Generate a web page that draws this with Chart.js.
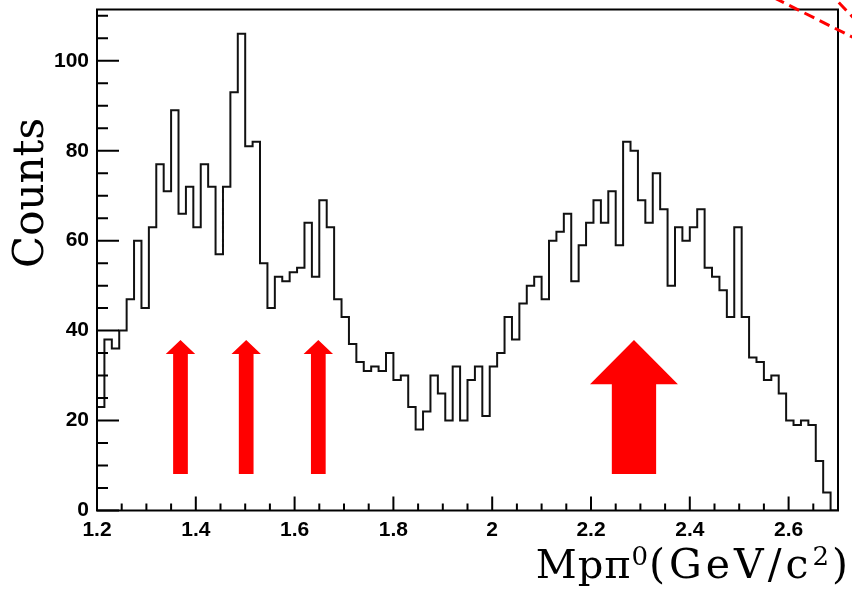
<!DOCTYPE html>
<html>
<head>
<meta charset="utf-8">
<script src="https://cdn.jsdelivr.net/npm/chart.js@4.4.1/dist/chart.umd.min.js"></script>
<style>
  html, body { margin: 0; padding: 0; background: #fff; }
</style>
</head>
<body>
<canvas id="histo" width="852" height="596"></canvas>
<script>
// --- histogram data (100 bins of 0.015 GeV from 1.2 to 2.7) ---
const binLow = 1.2;
const binWidth = 0.015;
const counts = [
  23, 38, 36, 40, 47, 60, 45, 63, 77, 71,
  89, 66, 72, 63, 77, 72, 57, 72, 93, 106,
  81, 82, 55, 45, 52, 51, 53, 54, 64, 52,
  69, 63, 47, 43, 37, 33, 31, 32, 31, 35,
  29, 30, 23, 18, 22, 30, 26, 20, 32, 20,
  29, 32, 21, 32, 35, 43, 38, 46, 50, 52,
  47, 60, 62, 66, 51, 59, 64, 69, 64, 71,
  59, 82, 80, 69, 64, 75, 67, 50, 63, 60,
  63, 67, 54, 52, 49, 43, 63, 43, 34, 33,
  29, 30, 26, 20, 19, 20, 19, 11, 4, 0
];

// axis ticks
const xTickValues = [1.2, 1.4, 1.6, 1.8, 2.0, 2.2, 2.4, 2.6];
const xTickLabels = ['1.2', '1.4', '1.6', '1.8', '2', '2.2', '2.4', '2.6'];
const yTickValues = [0, 20, 40, 60, 80, 100];
const yTickLabels = ['0', '20', '40', '60', '80', '100'];

// marker arrows (x centre in GeV)
const arrowCentres = [1.369, 1.502, 1.648, 2.287];
const arrowIsBig = [false, false, false, true];

// histogram outline: one point per bin low edge, plus the closing edge
const points = counts.map((c, i) => ({ x: binLow + i * binWidth, y: c }));
points.push({ x: binLow + counts.length * binWidth, y: 0 });

const overlay = {
    id: 'overlay',
    afterDatasetsDraw(chart) {
        const { ctx, chartArea: a, scales: { x, y } } = chart;
        ctx.save();

        // ROOT style inward ticks
        ctx.strokeStyle = '#000';
        ctx.lineWidth = 2;
        ctx.beginPath();
        for (let k = 0; k <= 22; k++) {
            const py = y.getPixelForValue(k * 5);
            const len = (k % 4 === 0) ? 22 : 11;
            ctx.moveTo(a.left, py);
            ctx.lineTo(a.left + len, py);
        }
        for (let k = 0; k <= 30; k++) {
            const px = x.getPixelForValue(1.2 + k * 0.05);
            const len = (k % 4 === 0) ? 14 : 7;
            ctx.moveTo(px, a.bottom);
            ctx.lineTo(px, a.bottom - len);
        }
        ctx.stroke();

        // frame
        ctx.strokeRect(a.left, a.top, a.right - a.left, a.bottom - a.top);

        // red arrows
        ctx.fillStyle = '#ff0000';
        arrowCentres.forEach((cx, i) => {
            const big = arrowIsBig[i];
            const shaft = big ? 0.0897 : 0.0298;
            const head = big ? 0.178 : 0.0596;
            const neck = big ? 28.1 : 34.8;
            const tip = 37.9, tail = 8.1;
            const xc = x.getPixelForValue(cx);
            const s = x.getPixelForValue(cx + shaft / 2) - xc;
            const h = x.getPixelForValue(cx + head / 2) - xc;
            const yTip = y.getPixelForValue(tip);
            const yNeck = y.getPixelForValue(neck);
            const yTail = y.getPixelForValue(tail);
            ctx.beginPath();
            ctx.moveTo(xc, yTip);
            ctx.lineTo(xc + h, yNeck);
            ctx.lineTo(xc + s, yNeck);
            ctx.lineTo(xc + s, yTail);
            ctx.lineTo(xc - s, yTail);
            ctx.lineTo(xc - s, yNeck);
            ctx.lineTo(xc - h, yNeck);
            ctx.closePath();
            ctx.fill();
        });

        // dashed red outline cut by the top-right corner
        ctx.strokeStyle = '#ff0000';
        ctx.lineWidth = 3;
        ctx.setLineDash([11, 6]);
        ctx.beginPath();
        ctx.moveTo(x.getPixelForValue(2.5398), y.getPixelForValue(115.7));
        ctx.lineTo(x.getPixelForValue(2.7695), y.getPixelForValue(103.05));
        ctx.moveTo(x.getPixelForValue(2.6778), y.getPixelForValue(115.7));
        ctx.lineTo(x.getPixelForValue(2.7508), y.getPixelForValue(107.3));
        ctx.stroke();
        ctx.setLineDash([]);

        // axis titles
        ctx.fillStyle = '#000';
        ctx.font = '42px "DejaVu Serif"';
        ctx.textBaseline = 'alphabetic';
        ctx.save();
        ctx.translate(43, 193);
        ctx.rotate(-Math.PI / 2);
        ctx.textAlign = 'center';
        ctx.fillText('Counts', 0, 0);
        ctx.restore();

        const parts = [
            { t: 'Mpπ', size: 40, rise: 0, gap: 1 },
            { t: '0', size: 26, rise: 13, gap: 1 },
            { t: '(GeV/c', size: 41, rise: 0, gap: 4 },
            { t: '2', size: 26, rise: 13, gap: 3 },
            { t: ')', size: 41, rise: 0, gap: 0 }
        ];
        ctx.textAlign = 'left';
        let total = 0;
        parts.forEach(p => {
            ctx.font = p.size + 'px "DejaVu Serif"';
            p.w = ctx.measureText(p.t).width + p.gap * p.t.length;
            total += p.w;
        });
        let px = 848 - total;
        parts.forEach(p => {
            ctx.font = p.size + 'px "DejaVu Serif"';
            let cx = px;
            for (const ch of p.t) {
                ctx.fillText(ch, cx, 578 - p.rise);
                cx += ctx.measureText(ch).width + p.gap;
            }
            px += p.w;
        });

        ctx.restore();
    }
};

new Chart(document.getElementById('histo'), {
    type: 'line',
    data: {
        datasets: [{
            data: points,
            stepped: 'before',
            borderColor: '#111',
            borderWidth: 2,
            pointRadius: 0,
            fill: false
        }]
    },
    options: {
        responsive: false,
        animation: false,
        devicePixelRatio: 1,
        layout: { padding: { left: 0, right: 14, top: 9.5, bottom: 0 } },
        plugins: { legend: { display: false }, tooltip: { enabled: false } },
        scales: {
            x: {
                type: 'linear',
                min: 1.2,
                max: 2.7,
                grid: { display: false, drawTicks: false },
                border: { display: false },
                afterBuildTicks: s => { s.ticks = xTickValues.map(v => ({ value: v })); },
                afterFit: s => { s.height = 85.5; s.paddingLeft = 0; s.paddingRight = 0; },
                ticks: {
                    padding: 7,
                    color: '#000',
                    maxRotation: 0,
                    autoSkip: false,
                    font: { family: '"Liberation Sans", Arial, sans-serif', size: 21, weight: 'bold' },
                    callback: (v) => { const i = xTickValues.findIndex(t => Math.abs(t - v) < 1e-6); return i < 0 ? '' : xTickLabels[i]; }
                }
            },
            y: {
                min: 0,
                max: 111.4,
                grid: { display: false, drawTicks: false },
                border: { display: false },
                afterBuildTicks: s => { s.ticks = yTickValues.map(v => ({ value: v })); },
                afterFit: s => { s.width = 97; s.paddingTop = 0; s.paddingBottom = 0; },
                ticks: {
                    padding: 8,
                    color: '#000',
                    autoSkip: false,
                    font: { family: '"Liberation Sans", Arial, sans-serif', size: 21, weight: 'bold' },
                    callback: (v) => { const i = yTickValues.indexOf(v); return i < 0 ? '' : yTickLabels[i]; }
                }
            }
        }
    },
    plugins: [overlay]
});
</script>
</body>
</html>
